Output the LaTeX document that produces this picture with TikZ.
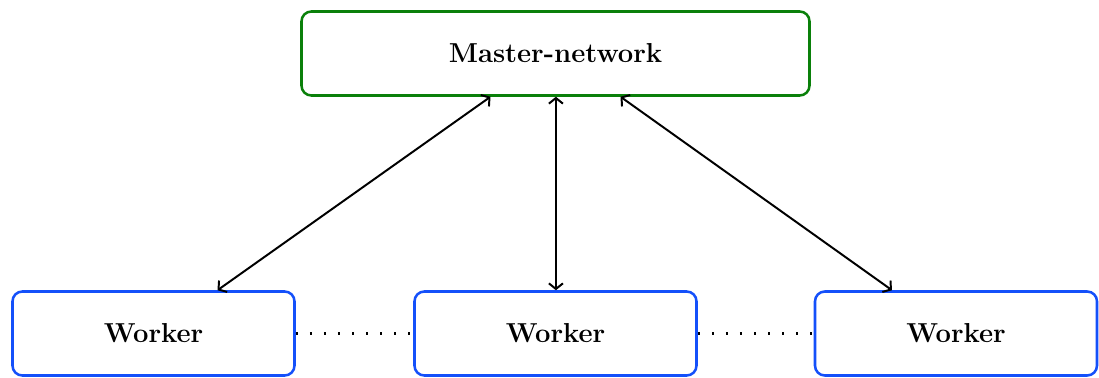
\documentclass[tikz,border=0pt]{standalone}
\usepackage{fontspec}
\usetikzlibrary{positioning,arrows.meta}
\definecolor{mastergreen}{RGB}{10,128,10}
\definecolor{workerblue}{RGB}{20,80,250}
\begin{document}
\begin{tikzpicture}[
    font=\fontsize{19.5}{23}\selectfont\bfseries,
    box/.style={draw=#1, line width=1.8pt, rounded corners=7pt, fill=white,
                minimum height=2.1cm, align=center, inner sep=0pt},
    arr/.style={{Straight Barb[length=4pt,width=10pt]}-{Straight Barb[length=4pt,width=10pt]}, line width=1.4pt},
    dots/.style={line width=1.6pt, dash pattern=on 1.6pt off 8.4pt},
]
\useasboundingbox (0,0) rectangle (27.475,9.45);
\node[box=mastergreen, minimum width=12.7cm] (master) at (13.8875,8.1125) {Master-network};
\node[box=workerblue, minimum width=7.05cm]  (wl)     at (3.8375,1.1125)  {Worker};
\node[box=workerblue, minimum width=7.05cm]  (wm)     at (13.8875,1.1125) {Worker};
\node[box=workerblue, minimum width=7.05cm]  (wr)     at (23.9,1.1125)    {Worker};

\draw[arr] ([xshift=-1.625cm]master.south) -- ([xshift=1.6cm]wl.north);
\draw[arr] ([xshift=0.01cm]master.south) -- ([xshift=0.01cm]wm.north);
\draw[arr] ([xshift=1.625cm]master.south) -- ([xshift=-1.6cm]wr.north);

\draw[dots] (wl.east) -- (wm.west);
\draw[dots] (wm.east) -- (wr.west);
\end{tikzpicture}
\end{document}
